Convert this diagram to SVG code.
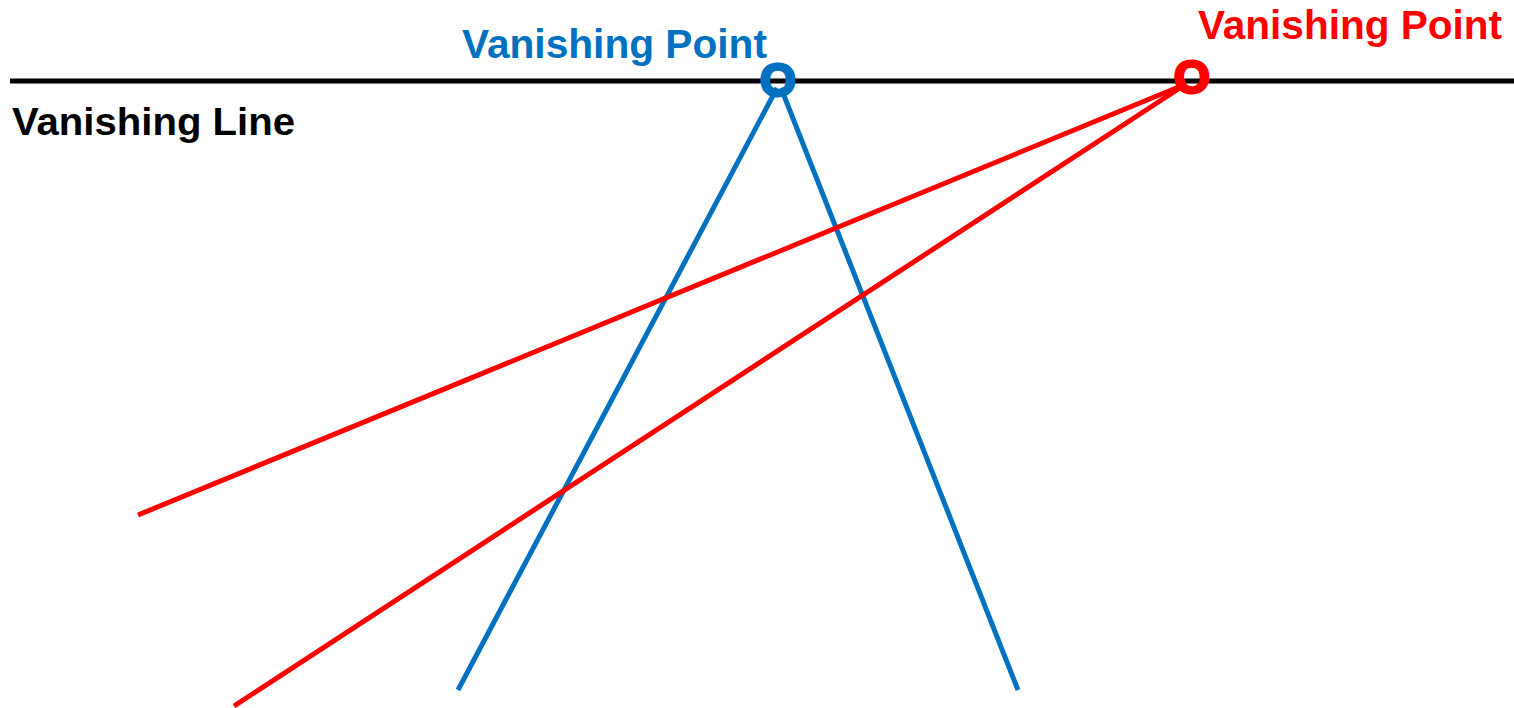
<svg xmlns="http://www.w3.org/2000/svg" width="1514" height="708" viewBox="0 0 1514 708">
<style>
.t{font-family:"Liberation Sans","Open Sans",Arial,sans-serif;font-weight:bold}
.blue{fill:#0070C0}
.red{fill:#FF0000}
.ob{stroke:#0070C0;stroke-width:3}
.or{stroke:#FF0000;stroke-width:3}
.lb{stroke:#0070C0;stroke-width:5;fill:none}
.lr{stroke:#FF0000;stroke-width:5;fill:none}
</style>
<rect width="1514" height="708" fill="#ffffff"/>
<g id="horizon">
<line x1="10" y1="81" x2="1514" y2="81" stroke="#000" stroke-width="5"/>
<text class="t" x="12" y="135" font-size="39" textLength="283" lengthAdjust="spacingAndGlyphs">Vanishing Line</text>
</g>
<g id="connectors">
<line class="lb" x1="777" y1="88" x2="458" y2="690"/>
<line class="lb" x1="781" y1="88" x2="1018" y2="690"/>
<line class="lr" x1="1186" y1="84" x2="138" y2="515"/>
<line class="lr" x1="1186" y1="84" x2="234" y2="706"/>
</g>
<g id="vp-blue">
<text class="t blue" x="462" y="58" font-size="40" textLength="305" lengthAdjust="spacingAndGlyphs">Vanishing Point</text>
<text class="t blue ob" x="778" y="96" font-size="46" text-anchor="middle">O</text>
</g>
<g id="vp-red">
<text class="t red" x="1198" y="39" font-size="40" textLength="304" lengthAdjust="spacingAndGlyphs">Vanishing Point</text>
<text class="t red or" x="1192" y="93" font-size="46" text-anchor="middle">O</text>
</g>
</svg>
